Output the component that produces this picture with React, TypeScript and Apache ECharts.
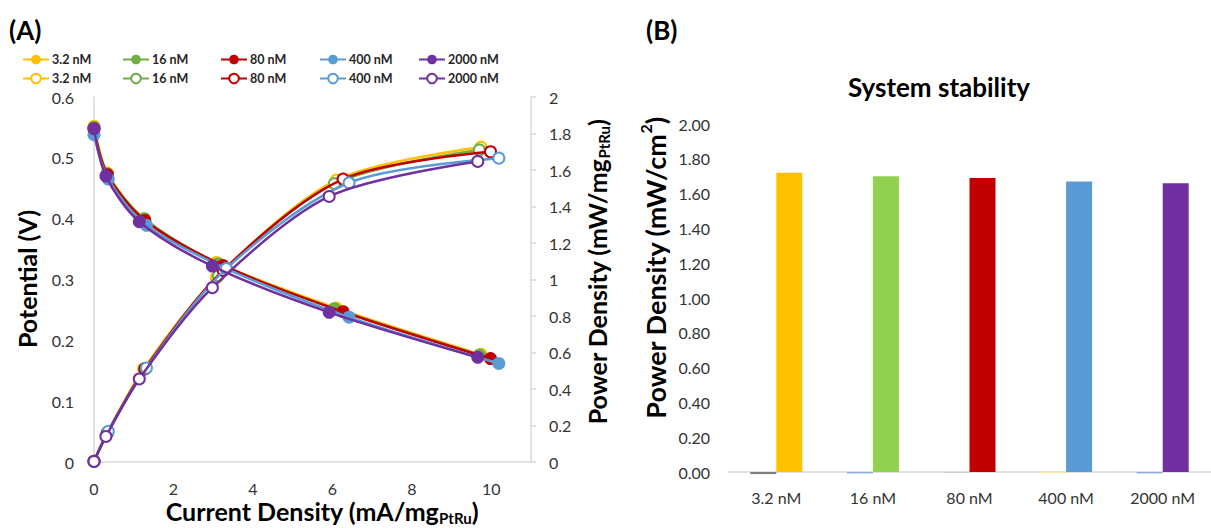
import React, { useEffect, useRef } from "react";
import * as echarts from "echarts";

const concentrations = ["3.2 nM", "16 nM", "80 nM", "400 nM", "2000 nM"];
const lineColors = ["#FFC000", "#70AD47", "#C00000", "#5B9BD5", "#7030A0"];
const barColors = ["#FFC000", "#92D050", "#C00000", "#5B9BD5", "#7030A0"];
const baseBarColors = ["#7F7F7F", "#8FAADC", "#D0CECE", "#FFE699", "#8FAADC"];

// Current density (mA/mg PtRu)
const current_3_2 = [0, 0.34, 1.25, 3.08, 6.1, 9.74];
const current_16 = [0, 0.33, 1.27, 3.13, 6.05, 9.7];
const current_80 = [0, 0.34, 1.28, 3.25, 6.27, 9.98];
const current_400 = [0, 0.36, 1.32, 3.33, 6.42, 10.19];
const current_2000 = [0, 0.3, 1.14, 2.98, 5.92, 9.66];

// Potential (V)
const potential_3_2 = [0.552, 0.475, 0.4, 0.328, 0.253, 0.177];
const potential_16 = [0.55, 0.474, 0.4, 0.326, 0.252, 0.176];
const potential_80 = [0.548, 0.472, 0.397, 0.323, 0.247, 0.17];
const potential_400 = [0.538, 0.465, 0.389, 0.318, 0.238, 0.162];
const potential_2000 = [0.548, 0.47, 0.395, 0.322, 0.246, 0.172];

// Power density (mW/mg PtRu)
const power_3_2 = [0.005, 0.162, 0.51, 1.01, 1.545, 1.725];
const power_16 = [0.004, 0.158, 0.51, 1.02, 1.525, 1.71];
const power_80 = [0.004, 0.16, 0.51, 1.05, 1.55, 1.7];
const power_400 = [0.003, 0.168, 0.515, 1.06, 1.53, 1.665];
const power_2000 = [0.003, 0.14, 0.455, 0.955, 1.455, 1.647];

// System stability (mW/cm2)
const stabilityBase = [-0.012, -0.008, -0.006, -0.006, -0.008];
const stabilityPower = [1.72, 1.7, 1.69, 1.67, 1.66];

const currents = [current_3_2, current_16, current_80, current_400, current_2000];
const potentials = [potential_3_2, potential_16, potential_80, potential_400, potential_2000];
const powers = [power_3_2, power_16, power_80, power_400, power_2000];

const FONT = "Lato";
const TITLE = `bold 25px ${FONT}`;
const SUB = `bold 15px ${FONT}`;

export default function App() {
  const ref = useRef<HTMLDivElement>(null);
  useEffect(() => {
    if (!ref.current) return;
    const chart = echarts.init(ref.current, undefined, { renderer: "svg" });

    const pair = (xs: number[], ys: number[]) => xs.map((x, i) => [x, ys[i]]);

    const vSeries = concentrations.map((c, i) => ({
      name: "V " + c,
      type: "line",
      xAxisIndex: 0,
      yAxisIndex: 0,
      data: pair(currents[i], potentials[i]),
      smooth: 0.3,
      symbol: "circle",
      symbolSize: 13,
      lineStyle: { width: 2.5, color: lineColors[i] },
      itemStyle: { color: lineColors[i] },
      z: 2 + i,
    }));
    const pSeries = concentrations.map((c, i) => ({
      name: "P " + c,
      type: "line",
      xAxisIndex: 0,
      yAxisIndex: 1,
      data: pair(currents[i], powers[i]),
      smooth: 0.3,
      symbol: "emptyCircle",
      symbolSize: 11,
      lineStyle: { width: 2.5, color: lineColors[i] },
      itemStyle: { color: lineColors[i], borderColor: lineColors[i], borderWidth: 2 },
      z: 2 + i,
    }));

    const legendLeft = [22, 122, 220, 319, 418];
    const legends: any[] = [];
    concentrations.forEach((c, i) => {
      [0, 1].forEach((row) => {
        legends.push({
          data: [(row === 0 ? "V " : "P ") + c],
          left: legendLeft[i],
          top: row === 0 ? 53 : 72,
          itemWidth: 26,
          itemHeight: 12,
          itemGap: 0,
          padding: 0,
          selectedMode: false,
          formatter: (n: string) => n.slice(2),
          textStyle: { fontFamily: FONT, fontWeight: "bold", fontSize: 12.5, color: "#262626", padding: [0, 0, 0, -2] },
        });
      });
    });

    const axisLabel = { fontFamily: FONT, fontSize: 16, color: "#333" };

    const subTitle = (text: string) => ({
      text: `{m|${text}}{s|PtRu}{m|)}`,
      align: "center",
      verticalAlign: "middle",
      rich: {
        m: { font: TITLE, fill: "#000" },
        s: { font: SUB, fill: "#000", padding: [14, 0, 0, 0] },
      },
    });

    const option: any = {
      animation: false,
      backgroundColor: "#fff",
      textStyle: { fontFamily: FONT },
      legend: legends,
      grid: [
        { left: 94, right: 1211 - 531, top: 97, bottom: 528 - 462 },
        { left: 728, width: 495, top: 124, bottom: 528 - 472 },
      ],
      xAxis: [
        {
          type: "value",
          gridIndex: 0,
          min: 0,
          max: 11,
          interval: 2,
          axisLine: { show: true, lineStyle: { color: "#D9D9D9", width: 1.5 } },
          axisTick: { show: false },
          splitLine: { show: false },
          axisLabel: { ...axisLabel, margin: 18, showMaxLabel: false },
        },
        {
          type: "category",
          gridIndex: 1,
          data: concentrations,
          axisLine: { show: true, lineStyle: { color: "#D9D9D9", width: 1.5 } },
          axisTick: { show: false },
          axisLabel: { ...axisLabel, margin: 17 },
        },
      ],
      yAxis: [
        {
          type: "value",
          gridIndex: 0,
          min: 0,
          max: 0.6,
          interval: 0.1,
          axisLine: { show: true, lineStyle: { color: "#D9D9D9", width: 1.5 } },
          axisTick: { show: false },
          splitLine: { show: false },
          axisLabel: { ...axisLabel, margin: 20 },
        },
        {
          type: "value",
          gridIndex: 0,
          position: "right",
          min: 0,
          max: 2,
          interval: 0.2,
          axisLine: { show: true, lineStyle: { color: "#D9D9D9", width: 1.5 } },
          axisTick: { show: true, length: 5, lineStyle: { color: "#D9D9D9", width: 1.5 } },
          splitLine: { show: false },
          axisLabel: { ...axisLabel, margin: 18 },
        },
        {
          type: "value",
          gridIndex: 1,
          min: 0,
          max: 2,
          interval: 0.2,
          axisLine: { show: false },
          axisTick: { show: false },
          splitLine: { show: false },
          axisLabel: { ...axisLabel, margin: 18, formatter: (v: number) => v.toFixed(2) },
        },
      ],
      series: [
        ...vSeries,
        ...pSeries,
        {
          name: "base",
          type: "bar",
          xAxisIndex: 1,
          yAxisIndex: 2,
          barWidth: 26,
          barGap: "0%",
          clip: false,
          data: stabilityBase.map((v, i) => ({ value: v, itemStyle: { color: baseBarColors[i] } })),
        },
        {
          name: "stability",
          type: "bar",
          xAxisIndex: 1,
          yAxisIndex: 2,
          barWidth: 26,
          barGap: "0%",
          data: stabilityPower.map((v, i) => ({ value: v, itemStyle: { color: barColors[i] } })),
        },
      ],
      graphic: [
        {
          type: "text",
          x: 9,
          y: 30,
          style: { text: "(A)", font: `bold 26px ${FONT}`, fill: "#000", align: "left", verticalAlign: "middle" },
        },
        {
          type: "text",
          x: 646,
          y: 30,
          style: { text: "(B)", font: `bold 26px ${FONT}`, fill: "#000", align: "left", verticalAlign: "middle" },
        },
        {
          type: "text",
          x: 27,
          y: 279,
          rotation: Math.PI / 2,
          style: { text: "Potential (V)", font: TITLE, fill: "#000", align: "center", verticalAlign: "middle" },
        },
        {
          type: "text",
          x: 597,
          y: 272,
          rotation: Math.PI / 2,
          style: subTitle("Power Density (mW/mg"),
        },
        {
          type: "text",
          x: 322,
          y: 511,
          style: subTitle("Current Density (mA/mg"),
        },
        {
          type: "text",
          x: 939,
          y: 87,
          style: { text: "System stability", font: `bold 26px ${FONT}`, fill: "#000", align: "center", verticalAlign: "middle" },
        },
        {
          type: "text",
          x: 653,
          y: 268,
          rotation: Math.PI / 2,
          style: {
            text: "{m|Power Density (mW/cm}{p|2}{m|)}",
            align: "center",
            verticalAlign: "middle",
            rich: {
              m: { font: `bold 27px ${FONT}`, fill: "#000", lineHeight: 32, verticalAlign: "bottom" },
              p: { font: `bold 16px ${FONT}`, fill: "#000", lineHeight: 17, verticalAlign: "top" },
            },
          },
        },
      ],
    };
    chart.setOption(option);
    return () => chart.dispose();
  }, []);
  return (
    <div
      ref={ref}
      style={{ position: "fixed", left: 0, top: 0, width: 1211, height: 528, background: "#fff" }}
    />
  );
}
